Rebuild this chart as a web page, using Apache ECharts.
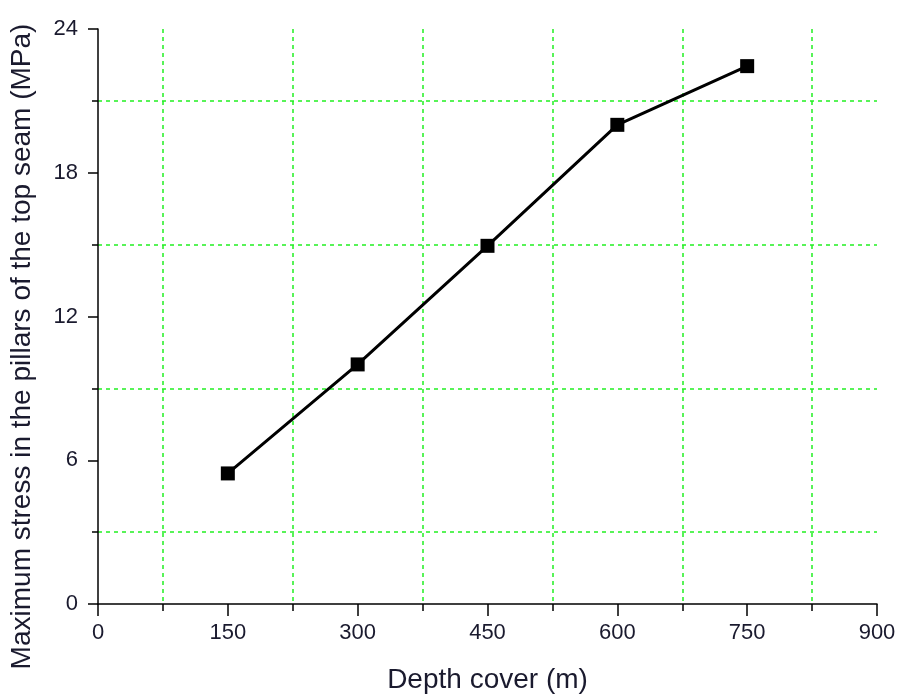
<!DOCTYPE html>
<html>
<head>
<meta charset="utf-8">
<script src="https://cdn.jsdelivr.net/npm/echarts@6/dist/echarts.min.js"></script>
<style>
  html, body { margin: 0; padding: 0; background: #fff; }
  #chart { width: 901px; height: 700px; }
</style>
</head>
<body>
<div id="chart"></div>
<script>
// Depth of cover (m) and peak pillar stress in the top seam (MPa)
const depthCover = [150, 300, 450, 600, 750];
const maxStress = [5.45, 10.0, 14.95, 20.0, 22.45];

const xTitle = 'Depth cover (m)';
const yTitle = 'Maximum stress in the pillars of the top seam (MPa)';

const chart = echarts.init(document.getElementById('chart'), null, { renderer: 'canvas' });

const FONT = 'Liberation Sans, Arial, sans-serif';
const TEXT_COLOR = '#1a1a2e';
const gridDash = { color: '#22f022', type: [4, 4], width: 1.5 };

chart.setOption({
  animation: false,
  backgroundColor: '#ffffff',
  grid: { left: 98, right: 24, top: 29, bottom: 96, containLabel: false },
  xAxis: {
    type: 'value',
    min: 0, max: 900, interval: 150,
    name: xTitle,
    nameLocation: 'middle',
    nameGap: 62,
    nameTextStyle: { color: TEXT_COLOR, fontFamily: FONT, fontSize: 28 },
    axisLine: { show: true, onZero: false, lineStyle: { color: '#000', width: 1.5 } },
    axisTick: { show: true, inside: false, length: 12, lineStyle: { color: '#000', width: 1.5 } },
    minorTick: { show: true, splitNumber: 2, length: 7, lineStyle: { color: '#000', width: 1.5 } },
    axisLabel: { margin: 18, color: TEXT_COLOR, fontFamily: FONT, fontSize: 22 },
    splitLine: { show: false },
    minorSplitLine: { show: true, lineStyle: gridDash }
  },
  yAxis: {
    type: 'value',
    min: 0, max: 24, interval: 6,
    name: yTitle,
    nameLocation: 'middle',
    nameGap: 62,
    // extra right padding pushes the rotated title a little lower along the axis
    nameTextStyle: { color: TEXT_COLOR, fontFamily: FONT, fontSize: 28, padding: [0, 60, 0, 0] },
    axisLine: { show: true, onZero: false, lineStyle: { color: '#000', width: 1.5 } },
    axisTick: { show: true, inside: false, length: 10, lineStyle: { color: '#000', width: 1.5 } },
    minorTick: { show: true, splitNumber: 2, length: 6, lineStyle: { color: '#000', width: 1.5 } },
    axisLabel: { margin: 20, color: TEXT_COLOR, fontFamily: FONT, fontSize: 22 },
    splitLine: { show: false },
    minorSplitLine: { show: true, lineStyle: gridDash }
  },
  series: [{
    type: 'line',
    data: depthCover.map((d, i) => [d, maxStress[i]]),
    symbol: 'rect',
    symbolSize: 14,
    itemStyle: { color: '#000' },
    lineStyle: { color: '#000', width: 3 },
    z: 5
  }]
});
</script>
</body>
</html>
